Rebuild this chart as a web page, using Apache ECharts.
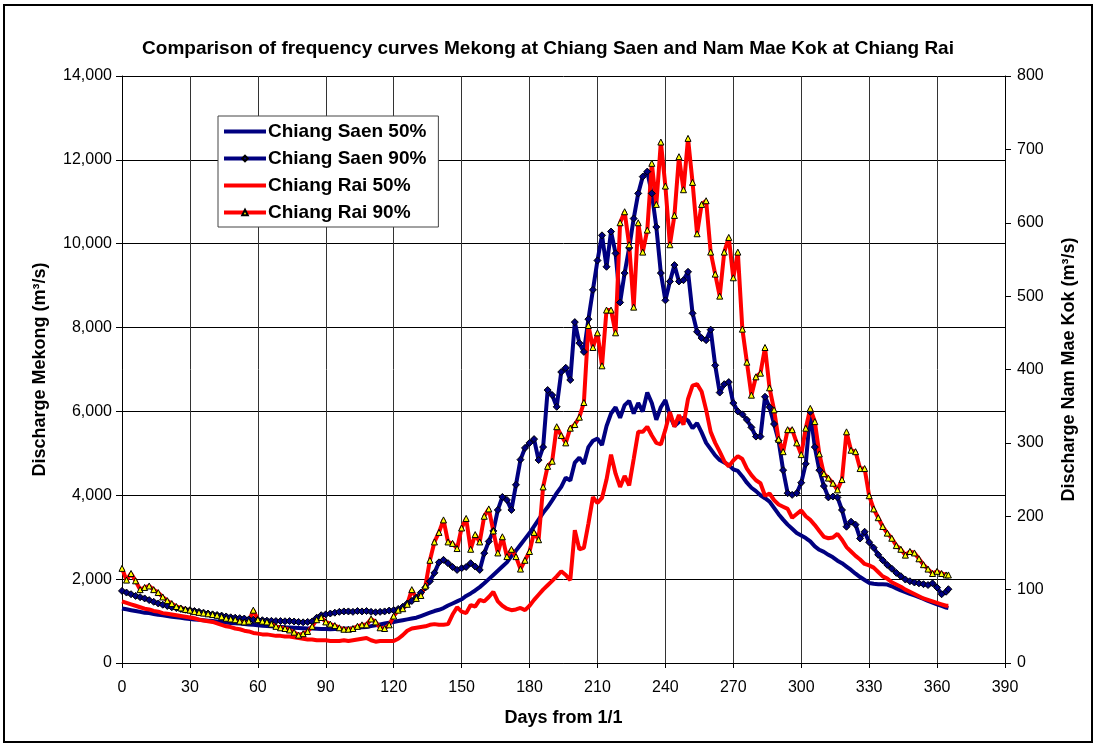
<!DOCTYPE html>
<html>
<head>
<meta charset="utf-8">
<title>Frequency curves Chiang Saen / Chiang Rai</title>
<script src="https://cdn.jsdelivr.net/npm/echarts@6/dist/echarts.min.js"></script>
<style>
  html, body { margin: 0; padding: 0; background: #fff; }
  #chart { width: 1096px; height: 745px; }
</style>
</head>
<body>
<div id="chart"></div>
<script>
// days from 1/1 (every second day, plus the last day)
const days = [
  0, 2, 4, 6, 8, 10, 12, 14, 16, 18,
  20, 22, 24, 26, 28, 30, 32, 34, 36, 38,
  40, 42, 44, 46, 48, 50, 52, 54, 56, 58,
  60, 62, 64, 66, 68, 70, 72, 74, 76, 78,
  80, 82, 84, 86, 88, 90, 92, 94, 96, 98,
  100, 102, 104, 106, 108, 110, 112, 114, 116, 118,
  120, 122, 124, 126, 128, 130, 132, 134, 136, 138,
  140, 142, 144, 146, 148, 150, 152, 154, 156, 158,
  160, 162, 164, 166, 168, 170, 172, 174, 176, 178,
  180, 182, 184, 186, 188, 190, 192, 194, 196, 198,
  200, 202, 204, 206, 208, 210, 212, 214, 216, 218,
  220, 222, 224, 226, 228, 230, 232, 234, 236, 238,
  240, 242, 244, 246, 248, 250, 252, 254, 256, 258,
  260, 262, 264, 266, 268, 270, 272, 274, 276, 278,
  280, 282, 284, 286, 288, 290, 292, 294, 296, 298,
  300, 302, 304, 306, 308, 310, 312, 314, 316, 318,
  320, 322, 324, 326, 328, 330, 332, 334, 336, 338,
  340, 342, 344, 346, 348, 350, 352, 354, 356, 358,
  360, 362, 364, 365
];

// Mekong at Chiang Saen, m3/s (left axis)
const chiangSaen50 = [
  1300, 1280, 1260, 1240, 1220, 1200, 1190, 1170, 1150, 1140,
  1120, 1100, 1090, 1080, 1060, 1050, 1040, 1030, 1020, 1010,
  1000, 990, 980, 965, 955, 950, 940, 930, 920, 910,
  900, 890, 885, 875, 865, 860, 850, 845, 840, 835,
  830, 825, 820, 815, 810, 810, 805, 810, 815, 815,
  820, 830, 845, 850, 860, 880, 900, 920, 940, 960,
  980, 1000, 1020, 1040, 1060, 1080, 1120, 1160, 1200, 1240,
  1270, 1310, 1370, 1420, 1470, 1520, 1600, 1660, 1730, 1810,
  1900, 2000, 2100, 2200, 2300, 2400, 2550, 2680, 2820, 2960,
  3100, 3260, 3420, 3580, 3720, 3880, 4050, 4200, 4420, 4350,
  4780, 4900, 4750, 5150, 5300, 5350, 5200, 5650, 5950, 6100,
  5850, 6150, 6250, 5950, 6200, 6000, 6450, 6200, 5800, 6100,
  6270, 5900, 5650, 5750, 5850, 5780, 5600, 5720, 5500, 5250,
  5100, 4950, 4840, 4780, 4720, 4620, 4580, 4450, 4300, 4180,
  4100, 4000, 3930, 3850, 3700, 3550, 3420, 3300, 3200, 3100,
  3040, 2980, 2900, 2780, 2700, 2650, 2580, 2520, 2440, 2380,
  2300, 2220, 2130, 2050, 1980, 1910, 1890, 1880, 1880, 1870,
  1830, 1780, 1730, 1690, 1650, 1610, 1570, 1530, 1480, 1440,
  1400, 1360, 1320, 1310
];
const chiangSaen90 = [
  1720, 1680, 1640, 1600, 1570, 1540, 1500, 1460, 1420, 1390,
  1360, 1330, 1310, 1290, 1270, 1260, 1240, 1220, 1200, 1180,
  1160, 1145, 1130, 1110, 1090, 1080, 1070, 1060, 1040, 1030,
  1025, 1020, 1010, 1005, 1000, 1000, 995, 1000, 990, 980,
  970, 980, 990, 1080, 1140, 1160, 1180, 1200, 1220, 1230,
  1230, 1220, 1240, 1230, 1240, 1220, 1210, 1220, 1230, 1250,
  1260, 1290, 1340, 1420, 1480, 1560, 1680, 1800, 1950, 2150,
  2400, 2460, 2380, 2290, 2220, 2260, 2290, 2380, 2300, 2220,
  2620, 2900, 3150, 3650, 3960, 3890, 3650, 4250, 4850, 5130,
  5250, 5340, 4840, 5150, 6510, 6390, 6110, 6940, 7040, 6750,
  8130, 7630, 7420, 8200, 8900, 9600, 10200, 9450, 10290, 9770,
  8600, 9300, 9900, 10600, 11200, 11600, 11720, 11200, 10400, 9300,
  8650, 9100, 9490, 9100, 9130, 9330, 8340, 7900, 7750, 7700,
  7950, 7100, 6450, 6650, 6700, 6200, 6000, 5930, 5800, 5620,
  5400, 5400, 6350, 6100, 5700, 5300, 4600, 4050, 4010, 4050,
  4300, 4750, 5990, 5150, 4600, 4220, 3950, 3970, 3950, 3650,
  3250, 3370, 3300, 2970, 3130, 2880, 2750, 2580, 2450, 2340,
  2250, 2150, 2070, 1990, 1950, 1920, 1900, 1880, 1860, 1900,
  1800, 1640, 1700, 1760
];

// Nam Mae Kok at Chiang Rai, m3/s (right axis)
const chiangRai50 = [
  84, 82, 80, 78, 76, 74, 73, 71, 70, 68,
  67, 66, 65, 64, 63, 62, 61, 59, 58, 57,
  56, 54, 52, 50, 49, 47, 46, 44, 43, 41,
  40, 39, 39, 38, 37, 37, 36, 36, 35, 34,
  33, 32, 32, 31, 31, 31, 30, 30, 30, 31,
  30, 31, 32, 33, 34, 31, 29, 30, 30, 30,
  30, 33, 38, 44, 47, 48, 49, 50, 52, 53,
  52, 52, 53, 66, 76, 70, 68, 79, 77, 86,
  84, 90, 97, 84, 78, 74, 72, 73, 75, 72,
  78, 86, 93, 100, 106, 112, 118, 125, 120, 113,
  181, 155, 157, 190, 226, 218, 225, 250, 284, 258,
  240, 255, 242, 278, 315, 315, 322, 310, 300, 298,
  318, 342, 322, 338, 325, 360, 378, 380, 370, 345,
  315, 300, 288, 275, 268, 276, 282, 278, 265, 256,
  249, 245, 228, 231, 222, 216, 213, 210, 198, 203,
  208, 200, 195, 188, 180, 172, 170, 171, 176, 168,
  158, 152, 146, 141, 135, 133, 130, 124, 118, 115,
  110, 107, 104, 100, 97, 94, 91, 88, 86, 84,
  82, 80, 78, 78
];
const chiangRai90 = [
  129, 113, 122, 112, 100, 103, 105, 100, 96, 90,
  85, 81, 77, 75, 73, 72, 70, 69, 68, 67,
  66, 65, 63, 61, 60, 59, 57, 56, 57, 72,
  59, 57, 56, 53, 50, 48, 47, 45, 42, 38,
  40, 43, 50, 59, 62, 56, 53, 51, 48, 46,
  46, 47, 50, 52, 52, 60, 56, 48, 47, 52,
  64, 72, 74, 80, 100, 88, 92, 105, 140, 165,
  178, 195, 165, 163, 156, 184, 197, 155, 175, 165,
  200, 210, 180, 150, 172, 145, 155, 145, 128, 140,
  152, 178, 168, 240, 268, 275, 322, 310, 300, 320,
  325, 335, 355, 460, 430, 450, 405, 481, 481, 450,
  600, 615, 570, 485, 600, 560, 590, 681, 625, 710,
  650, 570, 610, 690, 645, 715, 655, 585, 625, 630,
  560, 530, 500, 560, 580, 525, 560, 455, 410, 365,
  390, 395, 430, 375, 345, 305, 288, 318, 318, 300,
  284, 320, 347, 329, 285, 258, 252, 245, 236, 250,
  315, 290, 288, 265, 265, 228, 210, 198, 186, 177,
  170, 160, 155, 147, 152, 150, 142, 134, 128, 122,
  125, 122, 120, 120
];

const FONT = '"Liberation Sans", Arial, sans-serif';

function pairs(values) {
  return days.map((d, i) => [d, values[i]]);
}

const chart = echarts.init(document.getElementById('chart'), null, { renderer: 'canvas' });

chart.setOption({
  animation: false,
  backgroundColor: '#fff',
  textStyle: { fontFamily: FONT, color: '#000' },
  title: {
    text: 'Comparison of frequency curves Mekong at Chiang Saen and Nam Mae Kok at Chiang Rai',
    left: 'center',
    top: 34,
    textStyle: { fontFamily: FONT, fontSize: 19, fontWeight: 'bold', color: '#000' }
  },
  graphic: [
    {
      type: 'rect',
      shape: { x: 4, y: 5, width: 1088, height: 737 },
      style: { fill: 'none', stroke: '#000', lineWidth: 2 },
      silent: true
    }
  ],
  legend: {
    orient: 'vertical',
    left: 218,
    top: 116,
    padding: [6, 12, 5, 4],
    itemWidth: 42,
    itemHeight: 7,
    itemGap: 8,
    backgroundColor: '#fff',
    borderColor: '#444',
    borderWidth: 1,
    borderRadius: 0,
    lineStyle: { width: 4 },
    textStyle: { fontFamily: FONT, fontSize: 19, fontWeight: 'bold', color: '#000', padding: [0, 0, 0, -3] },
    data: [
      { name: 'Chiang Saen 50%', itemStyle: { opacity: 0 } },
      { name: 'Chiang Saen 90%' },
      { name: 'Chiang Rai 50%', itemStyle: { opacity: 0 } },
      { name: 'Chiang Rai 90%' }
    ]
  },
  grid: { left: 122, right: 91, top: 76, bottom: 82, containLabel: false },
  xAxis: {
    type: 'value',
    min: 0,
    max: 390,
    interval: 30,
    name: 'Days from 1/1',
    nameLocation: 'middle',
    nameGap: 46,
    nameTextStyle: { fontFamily: FONT, fontSize: 18, fontWeight: 'bold', color: '#000' },
    axisLine: { lineStyle: { color: '#000', width: 1 } },
    axisTick: { show: true, inside: false, length: 5, lineStyle: { color: '#000' } },
    axisLabel: { margin: 17, fontFamily: FONT, fontSize: 16, color: '#000' },
    splitLine: { show: true, lineStyle: { color: '#333', width: 1 } }
  },
  yAxis: [
    {
      type: 'value',
      min: 0,
      max: 14000,
      interval: 2000,
      position: 'left',
      name: 'Discharge Mekong (m³/s)',
      nameLocation: 'middle',
      nameGap: 73,
      nameTextStyle: { fontFamily: FONT, fontSize: 18, fontWeight: 'bold', color: '#000' },
      axisLine: { show: true, lineStyle: { color: '#000', width: 1 } },
      axisTick: { show: true, inside: false, length: 6, lineStyle: { color: '#000' } },
      axisLabel: {
        margin: 10,
        fontFamily: FONT,
        fontSize: 16,
        color: '#000',
        formatter: v => v.toLocaleString('en-US')
      },
      splitLine: { show: true, lineStyle: { color: '#000', width: 1 } }
    },
    {
      type: 'value',
      min: 0,
      max: 800,
      interval: 100,
      position: 'right',
      name: 'Discharge Nam Mae Kok (m³/s)',
      nameLocation: 'middle',
      nameGap: 55,
      nameRotate: 90,
      nameTextStyle: { fontFamily: FONT, fontSize: 18, fontWeight: 'bold', color: '#000' },
      axisLine: { show: true, lineStyle: { color: '#000', width: 1 } },
      axisTick: { show: true, inside: false, length: 6, lineStyle: { color: '#000' } },
      axisLabel: { margin: 12, fontFamily: FONT, fontSize: 16, color: '#000' },
      splitLine: { show: false }
    }
  ],
  series: [
    {
      name: 'Chiang Saen 50%',
      type: 'line',
      yAxisIndex: 0,
      symbol: 'none',
      lineStyle: { color: '#000080', width: 4 },
      itemStyle: { color: '#000080' },
      data: pairs(chiangSaen50)
    },
    {
      name: 'Chiang Saen 90%',
      type: 'line',
      yAxisIndex: 0,
      symbol: 'diamond',
      symbolSize: 7,
      showAllSymbol: true,
      lineStyle: { color: '#000080', width: 4 },
      itemStyle: { color: '#000080', borderColor: '#000', borderWidth: 1 },
      data: pairs(chiangSaen90)
    },
    {
      name: 'Chiang Rai 50%',
      type: 'line',
      yAxisIndex: 1,
      symbol: 'none',
      lineStyle: { color: '#ff0000', width: 4 },
      itemStyle: { color: '#ff0000' },
      data: pairs(chiangRai50)
    },
    {
      name: 'Chiang Rai 90%',
      type: 'line',
      yAxisIndex: 1,
      symbol: 'triangle',
      symbolSize: 6,
      showAllSymbol: true,
      lineStyle: { color: '#ff0000', width: 4 },
      itemStyle: { color: '#ffff00', borderColor: '#000', borderWidth: 1 },
      data: pairs(chiangRai90)
    }
  ]
});
</script>
</body>
</html>
